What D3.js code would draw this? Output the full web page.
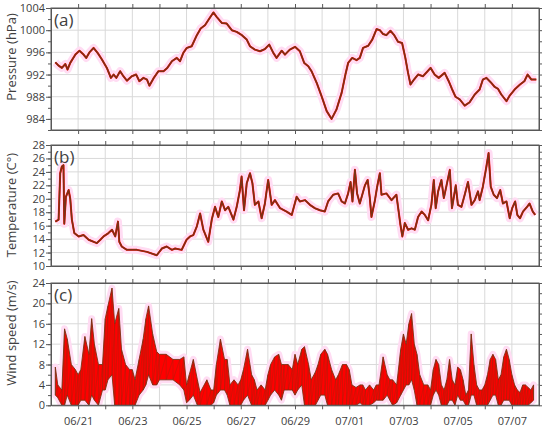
<!DOCTYPE html>
<html>
<head>
<meta charset="utf-8">
<script src="https://cdn.jsdelivr.net/npm/d3@7"></script>
<style>
body { margin: 0; background: #fff; }
text { font-family: "Open Sans", sans-serif; fill: #404040; }
</style>
</head>
<body>
<div id="chart"></div>
<script>
// days after 06/20 00:00 and readings
var pressureDay = [0.16,0.28,0.4,0.53,0.61,0.71,0.9,1.05,1.2,1.3,1.42,1.57,1.72,1.88,2.06,2.21,2.31,2.41,2.55,2.67,
    2.8,2.98,3.14,3.26,3.41,3.54,3.63,3.78,3.96,4.15,4.29,4.46,4.64,4.76,4.88,5.01,5.19,5.38,5.52,5.68,
    5.84,5.99,6.11,6.3,6.48,6.67,6.85,7.04,7.22,7.34,7.52,7.71,7.89,8.05,8.2,8.32,8.51,8.63,8.81,9.0,
    9.18,9.34,9.49,9.61,9.8,9.98,10.17,10.35,10.53,10.72,10.86,10.96,11.11,11.27,11.39,11.51,11.7,11.85,12.01,12.13,
    12.25,12.37,12.52,12.66,12.8,12.95,13.07,13.17,13.26,13.39,13.54,13.72,13.89,14.0,14.15,14.3,14.52,14.67,14.79,14.92,
    15.08,15.26,15.44,15.63,15.81,15.93,16.06,16.24,16.36,16.49,16.61,16.8,16.92,17.12,17.3,17.46,17.58,17.72,17.9];
var pressureVal = [994.2,993.6,993.2,993.9,992.9,994.1,995.6,996.3,995.6,995.0,996.0,996.8,995.9,994.7,993.2,991.4,992.0,991.4,992.6,991.7,
    990.9,991.7,992.0,990.8,991.4,991.1,990.0,991.3,992.6,992.6,993.2,994.4,995.0,994.4,995.9,996.8,997.1,999.1,1000.3,1000.9,
    1002.1,1003.2,1002.4,1001.3,1001.2,1000.0,999.7,999.1,998.3,997.1,996.5,996.2,996.6,997.4,995.9,995.0,996.3,995.6,996.5,997.0,
    996.2,994.1,993.5,992.6,990.5,988.1,985.4,984.0,985.7,988.7,992.0,994.1,995.0,994.6,995.0,996.8,997.2,998.3,1000.2,1000.0,
    999.3,999.1,999.9,999.1,997.9,997.7,995.0,992.3,990.2,991.1,992.0,991.7,992.6,993.2,992.0,991.4,992.3,990.8,989.4,988.0,
    987.5,986.4,987.0,988.4,989.3,991.1,991.4,990.5,989.8,989.4,988.4,987.2,988.2,989.4,990.2,990.8,992.0,991.1,991.1];

var tempDay = [0.16,0.28,0.34,0.40,0.46,0.49,0.55,0.65,0.71,0.77,0.86,1.02,1.20,1.39,1.69,1.82,1.94,2.12,2.25,2.37,
    2.47,2.52,2.61,2.80,3.17,3.54,3.90,4.09,4.27,4.46,4.58,4.82,5.00,5.13,5.25,5.38,5.50,5.62,5.80,5.93,
    6.05,6.17,6.30,6.42,6.54,6.73,6.85,6.97,7.03,7.12,7.22,7.34,7.43,7.52,7.65,7.77,7.89,8.01,8.14,8.26,
    8.45,8.69,8.88,9.06,9.18,9.37,9.55,9.73,9.92,10.10,10.22,10.41,10.59,10.72,10.84,10.96,11.05,11.12,11.21,11.29,
    11.39,11.58,11.68,11.76,11.82,11.95,12.03,12.13,12.19,12.37,12.56,12.74,12.80,12.89,12.96,13.05,13.17,13.30,13.42,13.54,
    13.67,13.79,13.91,14.03,14.12,14.19,14.28,14.40,14.49,14.59,14.71,14.79,14.93,15.01,15.14,15.26,15.38,15.51,15.63,15.75,
    15.81,15.93,16.06,16.14,16.22,16.33,16.45,16.57,16.67,16.80,16.92,17.01,17.12,17.20,17.30,17.41,17.56,17.65,17.77,17.86];
var tempVal = [16.6,16.9,23.8,24.8,25.0,16.3,20.3,21.3,20.0,16.9,14.9,14.4,14.6,13.9,13.4,13.9,14.4,14.9,15.4,14.4,
    16.6,13.6,12.9,12.4,12.4,12.1,11.6,12.6,12.9,12.4,12.6,12.4,13.9,14.4,14.6,15.9,17.8,15.4,13.6,16.9,
    18.8,17.3,19.6,18.3,18.8,16.9,18.8,21.3,23.3,18.3,22.3,23.8,22.3,19.1,19.6,17.1,19.3,22.8,19.1,19.8,
    18.6,18.1,17.6,20.3,19.6,19.8,19.1,18.6,18.3,18.1,19.6,20.6,20.8,19.6,19.3,20.8,22.5,19.6,24.3,20.8,
    19.3,22.0,22.8,20.1,17.3,19.8,21.8,23.8,20.6,20.8,19.8,20.6,18.8,16.1,14.4,16.4,15.4,15.6,15.4,17.3,
    18.1,17.6,16.8,19.1,22.8,18.6,21.1,22.8,20.1,22.0,24.3,18.6,22.0,19.1,18.8,20.6,22.5,19.1,19.8,21.1,
    19.8,21.8,24.8,26.8,21.8,20.6,20.1,21.3,19.3,19.6,17.1,18.6,19.6,17.6,17.1,18.1,18.8,19.3,18.1,17.6];

var windDay = [0.16,0.25,0.4,0.5,0.6,0.75,0.9,1.0,1.1,1.25, 1.4,1.5,1.6,1.75,1.9,2.0,2.1,2.25,2.35,2.5,
    2.6,2.75,2.9,3.0,3.1,3.25,3.4,3.5,3.6,3.75, 3.9,4.0,4.25,4.5,4.75,4.9,5.0,5.1,5.25,5.4,
    5.5,5.75,5.9,6.0,6.1,6.25,6.4,6.5,6.6,6.75, 6.9,7.0,7.1,7.25,7.4,7.5,7.6,7.75,7.9,8.0,
    8.1,8.25,8.4,8.5,8.6,8.75,8.9,9.0,9.1,9.25, 9.35,9.5,9.6,9.75,9.85,9.95,10.1,10.2,10.35,10.5,
    10.6,10.75,10.9,11.0,11.1,11.25,11.4,11.5,11.6,11.75, 11.9,12.0,12.1,12.25,12.4,12.5,12.6,12.75,12.9,13.0,
    13.1,13.2,13.3,13.4,13.5,13.6,13.75,13.9,14.0,14.1, 14.2,14.3,14.4,14.5,14.6,14.7,14.8,14.9,15.0,15.1,
    15.2,15.3,15.4,15.5,15.6,15.7,15.8,15.9,16.0,16.1, 16.2,16.3,16.4,16.5,16.6,16.7,16.8,16.9,17.0,17.1,
    17.2,17.3,17.4,17.5,17.6,17.7,17.8];
var windHigh = [7.5,4,3,15,13,8,7,6,7,13.5, 10,17,12,8,8,17,19.5,23,16,19,
    11,8,7,7,5,9,13,17,19.5,14, 10.5,10,10,9,9,9.5,4,6,9,5,
    2.5,5,3,3,8,13,9,9,4,5, 4,5,7,11,6,5,3,4,3,6,
    8,9.5,10,8,8,8,7,10,8,11, 11.5,8,5,6.5,8,10,11,10,7,5,
    6,8,8,7,4,3.5,4,4,3,4, 3,4,4,9.5,6,5,5,4,11,14,
    12,16,18,12,10,6,4,4,3,7, 9,8,4,3,5,9,5,4,7.5,7,
    5,2,3,14,8,4,3,3,4,6, 9,10,9,5,6,9.5,11,9,6,4,
    3,2.5,4,4,3.5,3,4];
var windLow = [2,1.5,0,0,2,0,0,0,1,1, 0,2,1,0,3,3,5,6,0,0,
    0,0,0,0,0,2,3,4,6,4, 4,5,5,5,4,3,0.5,1,2,0,
    0,0,0,0.5,2,3,3,2,0,0, 0,0,1,2,0,0,0,0,0,1,
    2,3,2,1,3,3,3,2,3,4, 0,0,0,0,1,2,2,0,0,0,
    0,0,0,0,0,0,0.5,0,0,0, 0.5,1,1,1,2,1,0,0.5,2,3,
    4,4,5,3,0,0,0,0,0,2, 3,2,0,0,0,1,1,0,2,1,
    1,0,0,2,2,0,0,0,0,0, 1,2,2,0,0,1,1,1,0,0,
    0,0,0,0,0,0.5,1];

var pressureTicks = [984,988,992,996,1000,1004];
var tempTicks = [10,12,14,16,18,20,22,24,26,28];
var windTicks = [0,4,8,12,16,20,24];
var dateLabels = ['06/21','06/23','06/25','06/27','06/29','07/01','07/03','07/05','07/07'];

var color_line = '#7a3214';
var color_red = '#ff0000';
var color_glow = '#ffdcf3';
var color_grid = '#d9d9d9';
var color_axis = '#595959';

var left = 51, right = 539;
var t0 = Date.UTC(2020, 5, 20);
function toDate(d) { return new Date(t0 + d * 864e5); }
function labelDate(s) { return new Date(Date.UTC(2020, +s.slice(0, 2) - 1, +s.slice(3))); }

var x = d3.scaleUtc().domain([toDate(0), toDate(18)]).range([left, right]);
var dayTicks = d3.utcDay.range(toDate(1), toDate(18));

var panels = [
    {key: 'a', top: 8, bottom: 130, domain: [982, 1004], ticks: pressureTicks, minor: 2, title: 'Pressure (hPa)', titleY: 57,
     days: pressureDay, vals: pressureVal},
    {key: 'b', top: 145, bottom: 266, domain: [10, 28], ticks: tempTicks, minor: 1, title: 'Temperature (C°)', titleY: 205,
     days: tempDay, vals: tempVal},
    {key: 'c', top: 283, bottom: 405.3, domain: [0, 24], ticks: windTicks, minor: 2, title: 'Wind speed (m/s)', titleY: 333}
];

var svg = d3.select('#chart').append('svg')
    .attr('width', 550).attr('height', 427);

function styleAxis(a) {
    a.selectAll('line').attr('stroke', color_axis);
    a.selectAll('path').attr('stroke', color_axis);
    a.selectAll('text').attr('fill', '#404040').style('font-family', '"Open Sans", sans-serif').style('font-size', '11px');
}

panels.forEach(function(p, i) {
    var y = d3.scaleLinear().domain(p.domain).range([p.bottom, p.top]);
    var minorTicks = d3.range(p.domain[0], p.domain[1] + 0.001, p.minor);
    var g = svg.append('g').attr('class', 'panel_' + p.key);

    g.append('clipPath').attr('id', 'clip' + p.key)
        .append('rect').attr('x', left).attr('y', p.top).attr('width', right - left).attr('height', p.bottom - p.top);

    // grid
    g.selectAll('.vgrid').data(dayTicks).enter().append('line')
        .attr('x1', function(d) { return x(d); }).attr('x2', function(d) { return x(d); })
        .attr('y1', p.top).attr('y2', p.bottom)
        .attr('stroke', color_grid).attr('stroke-width', 1);
    g.selectAll('.hgrid').data(p.ticks.filter(function(v) { return v > p.domain[0] && v < p.domain[1]; })).enter().append('line')
        .attr('x1', left).attr('x2', right)
        .attr('y1', function(d) { return y(d); }).attr('y2', function(d) { return y(d); })
        .attr('stroke', color_grid).attr('stroke-width', 1);

    var plot = g.append('g').attr('clip-path', 'url(#clip' + p.key + ')');

    if (p.days) {
        var pts = p.days.map(function(d, j) { return [toDate(d), p.vals[j]]; });
        var line = d3.line().x(function(d) { return x(d[0]); }).y(function(d) { return y(d[1]); });
        plot.append('path').datum(pts).attr('d', line)
            .attr('fill', 'none').attr('stroke', color_glow).attr('stroke-width', 8).attr('stroke-linejoin', 'round');
        plot.append('path').datum(pts).attr('d', line)
            .attr('fill', 'none').attr('stroke', color_red).attr('stroke-width', 2.0).attr('stroke-linejoin', 'round');
        plot.append('path').datum(pts).attr('d', line)
            .attr('fill', 'none').attr('stroke', color_line).attr('stroke-width', 1.5).attr('stroke-linejoin', 'round');
    } else {
        var band = windDay.map(function(d, j) { return {t: toDate(d), hi: windHigh[j], lo: windLow[j]}; });
        var area = d3.area().x(function(d) { return x(d.t); })
            .y0(function(d) { return y(d.lo); }).y1(function(d) { return y(d.hi); });
        plot.append('path').datum(band).attr('d', area)
            .attr('fill', color_glow).attr('stroke', color_glow).attr('stroke-width', 7).attr('stroke-linejoin', 'round');
        plot.append('path').datum(band).attr('d', area)
            .attr('fill', color_red).attr('stroke', color_line).attr('stroke-width', 0.9);
        var zig = [];
        band.forEach(function(d) { zig.push([d.t, d.hi]); zig.push([d.t, d.lo]); });
        plot.append('path').datum(zig)
            .attr('d', d3.line().x(function(d) { return x(d[0]); }).y(function(d) { return y(d[1]); }))
            .attr('fill', 'none').attr('stroke', color_line).attr('stroke-width', 0.7).attr('opacity', 0.45);
    }

    // axes
    styleAxis(g.append('g').attr('transform', 'translate(' + left + ',0)')
        .call(d3.axisLeft(y).tickValues(p.ticks).tickSize(5).tickSizeOuter(0).tickPadding(1).tickFormat(d3.format('d'))));
    var minorLeft = g.append('g').attr('transform', 'translate(' + left + ',0)')
        .call(d3.axisLeft(y).tickValues(minorTicks).tickSize(3).tickSizeOuter(0));
    var minorRight = g.append('g').attr('transform', 'translate(' + right + ',0)')
        .call(d3.axisRight(y).tickValues(minorTicks).tickSize(3).tickSizeOuter(0));
    var topAxis = g.append('g').attr('transform', 'translate(0,' + p.top + ')')
        .call(d3.axisTop(x).tickValues(dayTicks).tickSize(4).tickSizeOuter(0));
    var bottomAxis = g.append('g').attr('transform', 'translate(0,' + p.bottom + ')')
        .call(d3.axisBottom(x).tickValues(dayTicks).tickSize(4).tickSizeOuter(0));
    [minorLeft, minorRight, topAxis, bottomAxis].forEach(function(a) {
        a.selectAll('text').remove();
        styleAxis(a);
    });
    if (i == panels.length - 1) {
        var lab = g.append('g').attr('transform', 'translate(0,' + p.bottom + ')')
            .call(d3.axisBottom(x).tickValues(dateLabels.map(labelDate)).tickSize(0).tickPadding(12)
                .tickFormat(function(d, k) { return dateLabels[k]; }));
        lab.select('.domain').remove();
        styleAxis(lab);
    }

    g.append('rect').attr('x', left).attr('y', p.top).attr('width', right - left).attr('height', p.bottom - p.top)
        .attr('fill', 'none').attr('stroke', color_axis).attr('stroke-width', 1);

    g.append('text').attr('x', 54).attr('y', p.top + 18)
        .style('font-size', '17px').attr('fill', '#222').text('(' + p.key + ')');

    g.append('text').attr('transform', 'translate(16,' + p.titleY + ') rotate(-90)')
        .attr('text-anchor', 'middle').style('font-size', '13px').attr('fill', '#333').text(p.title);
});
</script>
</body>
</html>
